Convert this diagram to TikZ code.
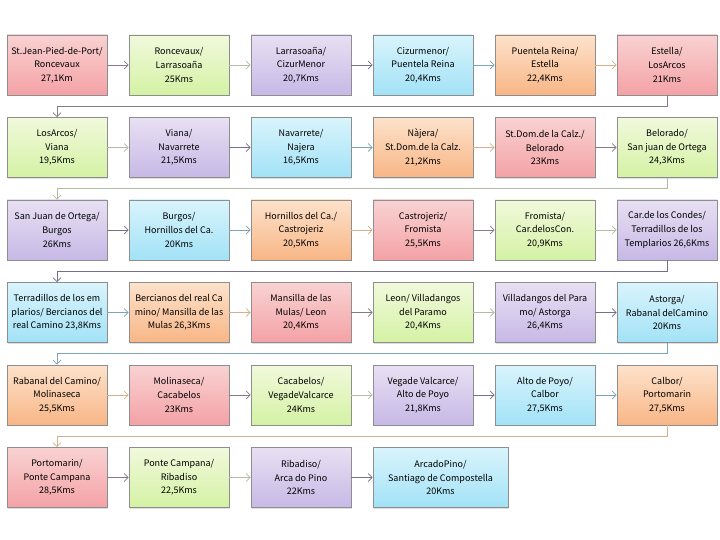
\documentclass[tikz,border=0pt]{standalone}
\usepackage{fontspec}
\setmainfont{Noto Sans CJK KR}
\usetikzlibrary{arrows.meta,shadows}
\definecolor{rT}{HTML}{F9D2D2}\definecolor{rB}{HTML}{F4A2A6}
\definecolor{gT}{HTML}{F1F9DC}\definecolor{gB}{HTML}{D4F2A4}
\definecolor{pT}{HTML}{E8E0F3}\definecolor{pB}{HTML}{C6B9E6}
\definecolor{bT}{HTML}{D9F4FC}\definecolor{bB}{HTML}{A2E2F7}
\definecolor{oT}{HTML}{FDE2CB}\definecolor{oB}{HTML}{F8B686}
\definecolor{rA}{HTML}{857A86}
\definecolor{gA}{HTML}{B4BCA8}
\definecolor{pA}{HTML}{76708A}
\definecolor{bA}{HTML}{7FA4B4}
\definecolor{oA}{HTML}{D4B08C}
\definecolor{edge}{HTML}{8E8E8E}
\tikzset{
  bx/.style={draw=edge, line width=0.6pt, minimum width=100pt, minimum height=60pt,
    inner sep=1pt, align=center, font=\fontsize{9}{13.7}\selectfont,
    drop shadow={shadow xshift=1.2pt, shadow yshift=-1.2pt, opacity=0.25}},
  cr/.style={bx, top color=rT, bottom color=rB},
  cg/.style={bx, top color=gT, bottom color=gB},
  cp/.style={bx, top color=pT, bottom color=pB},
  cb/.style={bx, top color=bT, bottom color=bB},
  co/.style={bx, top color=oT, bottom color=oB},
  arr/.style={line width=0.8pt, -{Straight Barb[length=4pt,width=8pt]}},
}
\begin{document}
\begin{tikzpicture}[x=1pt,y=-1pt]
\fill[white] (0,0) rectangle (720,540);
\useasboundingbox (0,0) rectangle (720,540);
% row 1
\node[cr] (b1) at (57,65) {St.Jean-Pied-de-Port/\\Roncevaux\\27,1Km};
\node[cg] (b2) at (179,65) {Roncevaux/\\Larrasoaña\\25Kms};
\node[cp] (b3) at (301,65) {Larrasoaña/\\CizurMenor\\20,7Kms};
\node[cb] (b4) at (423,65) {Cizurmenor/\\Puentela Reina\\20,4Kms};
\node[co] (b5) at (545,65) {Puentela Reina/\\Estella\\22,4Kms};
\node[cr] (b6) at (667,65) {Estella/\\LosArcos\\21Kms};
% row 2
\node[cg] (b7) at (57,147.5) {LosArcos/\\Viana\\19,5Kms};
\node[cp] (b8) at (179,147.5) {Viana/\\Navarrete\\21,5Kms};
\node[cb] (b9) at (301,147.5) {Navarrete/\\Najera\\16,5Kms};
\node[co] (b10) at (423,147.5) {Nàjera/\\St.Dom.de la Calz.\\21,2Kms};
\node[cr] (b11) at (545,147.5) {St.Dom.de la Calz./\\Belorado\\23Kms};
\node[cg] (b12) at (667,147.5) {Belorado/\\San juan de Ortega\\24,3Kms};
% row 3
\node[cp] (b13) at (57,230) {San Juan de Ortega/\\Burgos\\26Kms};
\node[cb] (b14) at (179,230) {Burgos/\\Hornillos del Ca.\\20Kms};
\node[co] (b15) at (301,230) {Hornillos del Ca./\\Castrojeriz\\20,5Kms};
\node[cr] (b16) at (423,230) {Castrojeriz/\\Fromista\\25,5Kms};
\node[cg] (b17) at (545,230) {Fromista/\\Car.delosCon.\\20,9Kms};
\node[cp] (b18) at (667,230) {Car.de los Condes/\\Terradillos de los\\Templarios 26,6Kms};
% row 4
\node[cb] (b19) at (57,312.5) {Terradillos de los em\\plarios/ Bercianos del\\real Camino 23,8Kms};
\node[co] (b20) at (179,312.5) {Bercianos del real Ca\\mino/ Mansilla de las\\Mulas 26,3Kms};
\node[cr] (b21) at (301,312.5) {Mansilla de las\\Mulas/ Leon\\20,4Kms};
\node[cg] (b22) at (423,312.5) {Leon/ Villadangos\\del Paramo\\20,4Kms};
\node[cp] (b23) at (545,312.5) {Villadangos del Para\\mo/ Astorga\\26,4Kms};
\node[cb] (b24) at (667,312.5) {Astorga/\\Rabanal delCamino\\20Kms};
% row 5
\node[co] (b25) at (57,395) {Rabanal del Camino/\\Molinaseca\\25,5Kms};
\node[cr] (b26) at (179,395) {Molinaseca/\\Cacabelos\\23Kms};
\node[cg] (b27) at (301,395) {Cacabelos/\\VegadeValcarce\\24Kms};
\node[cp] (b28) at (423,395) {Vegade Valcarce/\\Alto de Poyo\\21,8Kms};
\node[cb] (b29) at (545,395) {Alto de Poyo/\\Calbor\\27,5Kms};
\node[co] (b30) at (667,395) {Calbor/\\Portomarin\\27,5Kms};
% row 6
\node[cr] (b31) at (57,477.5) {Portomarin/\\Ponte Campana\\28,5Kms};
\node[cg] (b32) at (179,477.5) {Ponte Campana/\\Ribadiso\\22,5Kms};
\node[cp] (b33) at (301,477.5) {Ribadiso/\\Arca do Pino\\22Kms};
\node[cb, minimum width=135pt] (b34) at (440.5,477.5) {ArcadoPino/\\Santiago de Compostella\\20Kms};
% horizontal arrows
\draw[arr,rA] (b1.east) -- (b2.west);
\draw[arr,gA] (b2.east) -- (b3.west);
\draw[arr,pA] (b3.east) -- (b4.west);
\draw[arr,bA] (b4.east) -- (b5.west);
\draw[arr,oA] (b5.east) -- (b6.west);
\draw[arr,gA] (b7.east) -- (b8.west);
\draw[arr,pA] (b8.east) -- (b9.west);
\draw[arr,bA] (b9.east) -- (b10.west);
\draw[arr,oA] (b10.east) -- (b11.west);
\draw[arr,rA] (b11.east) -- (b12.west);
\draw[arr,pA] (b13.east) -- (b14.west);
\draw[arr,bA] (b14.east) -- (b15.west);
\draw[arr,oA] (b15.east) -- (b16.west);
\draw[arr,rA] (b16.east) -- (b17.west);
\draw[arr,gA] (b17.east) -- (b18.west);
\draw[arr,bA] (b19.east) -- (b20.west);
\draw[arr,oA] (b20.east) -- (b21.west);
\draw[arr,rA] (b21.east) -- (b22.west);
\draw[arr,gA] (b22.east) -- (b23.west);
\draw[arr,pA] (b23.east) -- (b24.west);
\draw[arr,oA] (b25.east) -- (b26.west);
\draw[arr,rA] (b26.east) -- (b27.west);
\draw[arr,gA] (b27.east) -- (b28.west);
\draw[arr,pA] (b28.east) -- (b29.west);
\draw[arr,bA] (b29.east) -- (b30.west);
\draw[arr,rA] (b31.east) -- (b32.west);
\draw[arr,gA] (b32.east) -- (b33.west);
\draw[arr,pA] (b33.east) -- (b34.west);
% row connectors
\draw[arr,rA] (b6.south) -- ++(0,11) -| (b7.north);
\draw[arr,gA] (b12.south) -- ++(0,11) -| (b13.north);
\draw[arr,pA] (b18.south) -- ++(0,11) -| (b19.north);
\draw[arr,bA] (b24.south) -- ++(0,11) -| (b25.north);
\draw[arr,oA] (b30.south) -- ++(0,11) -| (b31.north);
\end{tikzpicture}
\end{document}
